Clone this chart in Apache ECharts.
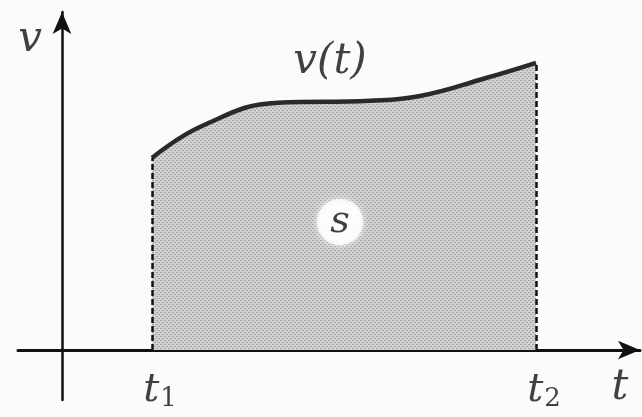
<!DOCTYPE html>
<html>
<head>
<meta charset="utf-8">
<script src="https://cdn.jsdelivr.net/npm/echarts@6/dist/echarts.min.js"></script>
<style>
  html, body { margin: 0; padding: 0; background: #fbfbfb; }
  #chart { width: 642px; height: 417px; }
</style>
</head>
<body>
<div id="chart"></div>
<script>
var chart = echarts.init(document.getElementById('chart'));

// v(t) (arbitrary units)
var tValues = [2.25, 3.5, 5.4, 7.7, 8.95, 10.6, 11.85];
var vValues = [4.8, 5.6, 6.18, 6.23, 6.35, 6.8, 7.18];
var tickNames = ['t1', 't2'];

var t1 = tValues[0], t2 = tValues[tValues.length - 1];
var curve = tValues.map(function (t, i) { return [t, vValues[i]]; });

var serif = '"DejaVu Serif", "Liberation Serif", serif';
var ink = '#111111';

// dotted screen like the printed figure
var dots = document.createElement('canvas');
dots.width = 4;
dots.height = 4;
var dctx = dots.getContext('2d');
dctx.fillStyle = '#d2d2d2';
dctx.fillRect(0, 0, 4, 4);
dctx.fillStyle = '#a4a4a4';
dctx.fillRect(0, 0, 2, 1);
dctx.fillRect(2, 2, 2, 1);

function sub(name) {
    return '{t|' + name.charAt(0) + '}{s|' + name.slice(1) + '}';
}

option = {
    backgroundColor: '#fbfbfb',
    animation: false,
    grid: { left: 18, right: 2, top: 12, bottom: 17, outerBoundsMode: 'none', containLabel: false },
    xAxis: {
        type: 'value',
        min: -1.1,
        max: 14.45,
        axisLine: {
            onZero: true,
            symbol: ['none', 'arrow'],
            symbolSize: [14, 22],
            lineStyle: { color: ink, width: 3 }
        },
        axisTick: { show: false },
        axisLabel: { show: false },
        splitLine: { show: false }
    },
    yAxis: {
        type: 'value',
        min: -1.25,
        max: 8.45,
        axisLine: {
            onZero: true,
            symbol: ['none', 'arrow'],
            symbolSize: [14, 22],
            lineStyle: { color: ink, width: 2.5 }
        },
        axisTick: { show: false },
        axisLabel: { show: false },
        splitLine: { show: false }
    },
    series: [{
        name: 'v(t)',
        type: 'line',
        data: curve,
        smooth: 0.45,
        symbol: 'none',
        lineStyle: { color: '#2a2a2a', width: 4.5 },
        areaStyle: { color: { image: dots, repeat: 'repeat' }, opacity: 1 },
        markLine: {
            silent: true,
            symbol: 'none',
            label: { show: false },
            lineStyle: { color: ink, width: 2.5, type: [6, 3] },
            data: [
                [{ coord: [t1, 0] }, { coord: [t1, vValues[0]] }],
                [{ coord: [t2, 0] }, { coord: [t2, vValues[vValues.length - 1]] }]
            ]
        },
        z: 1
    }, {
        // t1, t2 under the time axis
        type: 'scatter',
        symbolSize: 0,
        data: [[t1, 0], [t2, 0]],
        label: {
            show: true,
            position: 'bottom',
            distance: 20,
            offset: [8, 0],
            formatter: function (p) { return sub(tickNames[p.dataIndex]); },
            rich: {
                t: { fontFamily: serif, fontStyle: 'italic', fontSize: 40, color: ink },
                s: { fontFamily: serif, fontSize: 26, color: ink, verticalAlign: 'bottom', padding: [16, 0, 0, 1] }
            }
        },
        z: 3
    }, {
        // area name inside a white disc
        type: 'scatter',
        data: [[6.95, 3.2]],
        symbolSize: 46,
        itemStyle: { color: '#ffffff', shadowColor: '#ffffff', shadowBlur: 6 },
        label: {
            show: true,
            position: 'inside',
            formatter: 's',
            fontFamily: serif,
            fontStyle: 'italic',
            fontSize: 38,
            color: ink
        },
        z: 3
    }, {
        // text labels: v, v(t), t
        type: 'scatter',
        symbolSize: 0,
        data: [
            { value: [-0.8, 7.75], label: { formatter: 'v' } },
            { value: [6.7, 7.2], label: { formatter: 'v(t)' } },
            { value: [13.95, -0.95], label: { formatter: 't' } }
        ],
        label: {
            show: true,
            position: 'inside',
            fontFamily: serif,
            fontStyle: 'italic',
            fontSize: 42,
            color: ink
        },
        z: 3
    }]
};

chart.setOption(option);
</script>
</body>
</html>
